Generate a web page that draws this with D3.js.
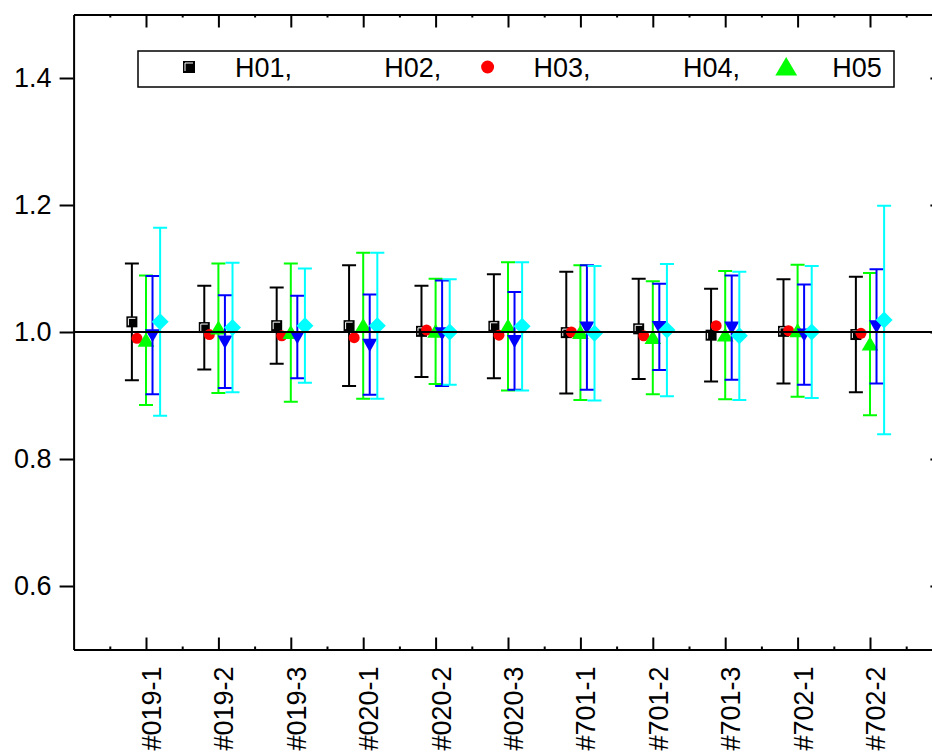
<!DOCTYPE html>
<html>
<head>
<meta charset="utf-8">
<script src="https://cdn.jsdelivr.net/npm/d3@7"></script>
<style>
    body { margin: 0; background: #fff; }
    text { font-family: "Liberation Sans", Arial, sans-serif; }
</style>
</head>
<body>
<div id="chart-area"></div>
<script>
// Data
let categories = ["#019-1", "#019-2", "#019-3", "#020-1", "#020-2", "#020-3",
    "#701-1", "#701-2", "#701-3", "#702-1", "#702-2"];

let blackValues = [1.016, 1.007, 1.010, 1.010, 1.001, 1.009, 0.999, 1.005, 0.995, 1.001, 0.996];
let blackErrors = [0.092, 0.066, 0.060, 0.095, 0.072, 0.082, 0.096, 0.079, 0.073, 0.082, 0.091];

let redValues = [0.990, 0.996, 0.994, 0.991, 1.003, 0.995, 1.000, 0.994, 1.010, 1.002, 0.998];

let greenValues = [0.987, 1.006, 0.999, 1.010, 1.001, 1.009, 0.999, 0.991, 0.995, 1.002, 0.981];
let greenErrors = [0.102, 0.102, 0.109, 0.115, 0.083, 0.101, 0.106, 0.089, 0.101, 0.104, 0.112];

let blueValues = [0.995, 0.985, 0.992, 0.980, 0.998, 0.986, 1.007, 1.008, 1.007, 0.996, 1.009];
let blueErrors = [0.093, 0.073, 0.065, 0.079, 0.083, 0.077, 0.098, 0.068, 0.082, 0.079, 0.090];

let cyanValues = [1.016, 1.007, 1.010, 1.010, 1.000, 1.009, 0.998, 1.003, 0.994, 1.000, 1.019];
let cyanErrors = [0.148, 0.102, 0.090, 0.115, 0.083, 0.101, 0.106, 0.104, 0.101, 0.104, 0.180];

let yTicks = [0.6, 0.8, 1.0, 1.2, 1.4];
let legendLabels = ["H01,", "H02,", "H03,", "H04,", "H05"];
let legendShapes = ["square", null, "circle", null, "triangle"];

// Series styling
let series = [
    {values: blackValues, errors: blackErrors, color: "#000000", shape: "square", offset: -0.195},
    {values: redValues, errors: null, color: "#ff0000", shape: "circle", offset: -0.125},
    {values: greenValues, errors: greenErrors, color: "#00ff00", shape: "triangle", offset: 0},
    {values: blueValues, errors: blueErrors, color: "#0000ff", shape: "down", offset: 0.09},
    {values: cyanValues, errors: cyanErrors, color: "#00ffff", shape: "diamond", offset: 0.195}
];
let shapeColor = {square: "#000000", circle: "#ff0000", triangle: "#00ff00"};

let W = 932, H = 752;
let plotLeft = 73.6, plotRight = 942.4, plotTop = 14.5, plotBottom = 649.5;

let svg = d3.select("#chart-area")
    .append("svg")
    .attr("width", W)
    .attr("height", H);

// Scales
let x = d3.scaleLinear().domain([0, 12]).range([plotLeft, plotRight]);
let y = d3.scaleLinear().domain([0.5, 1.5]).range([plotBottom, plotTop]);

function markerPath(shape, s) {
    let p = d3.path();
    if (shape === "square") {
        p.rect(-s / 2, -s / 2, s, s);
    } else if (shape === "circle") {
        p.arc(0, 0, s / 2, 0, 2 * Math.PI);
    } else if (shape === "triangle") {
        p.moveTo(0, -s * 0.48); p.lineTo(s * 0.52, s * 0.4); p.lineTo(-s * 0.52, s * 0.4); p.closePath();
    } else if (shape === "down") {
        p.moveTo(0, s * 0.48); p.lineTo(s * 0.5, -s * 0.4); p.lineTo(-s * 0.5, -s * 0.4); p.closePath();
    } else if (shape === "diamond") {
        p.moveTo(0, -s / 2); p.lineTo(s / 2, 0); p.lineTo(0, s / 2); p.lineTo(-s / 2, 0); p.closePath();
    }
    return p.toString();
}
let markerSize = {square: 11, circle: 11, triangle: 16, down: 15, diamond: 17};

function drawMarker(g, shape, size, color) {
    g.append("path")
        .attr("d", markerPath(shape, size))
        .attr("fill", color);
    if (shape === "square") {
        let h = size / 2 - 2;
        g.append("path")
            .attr("d", "M" + (-h) + "," + h + "V" + (-h) + "H" + h)
            .attr("fill", "none")
            .attr("stroke", "#fff")
            .attr("stroke-width", 1);
    }
}

// Error bars and markers
series.forEach(function (s) {
    let g = svg.append("g");
    s.values.forEach(function (v, i) {
        let cx = x(i + 1 + s.offset);
        if (s.errors) {
            let y1 = y(v + s.errors[i]), y2 = y(v - s.errors[i]);
            g.append("path")
                .attr("d", "M" + cx + "," + y1 + "V" + y2 +
                    "M" + (cx - 7) + "," + y1 + "H" + (cx + 7) +
                    "M" + (cx - 7) + "," + y2 + "H" + (cx + 7))
                .attr("stroke", s.color)
                .attr("stroke-width", 2)
                .attr("fill", "none");
        }
    });
    s.values.forEach(function (v, i) {
        let m = g.append("g")
            .attr("transform", "translate(" + x(i + 1 + s.offset) + "," + y(v) + ")");
        drawMarker(m, s.shape, markerSize[s.shape], s.color);
    });
});

// Reference line at 1.0
svg.append("line")
    .attr("x1", plotLeft).attr("x2", plotRight)
    .attr("y1", y(1)).attr("y2", y(1))
    .attr("stroke", "#000")
    .attr("stroke-width", 2);

// Axes
let majorX = categories.map(function (d, i) { return i + 1; });
let minorX = categories.map(function (d, i) { return i + 0.5; }).concat([11.5]);

function styleAxis(g) {
    g.selectAll("path, line").attr("stroke", "#000").attr("stroke-width", 2);
    g.selectAll("text").attr("font-size", "27px").attr("fill", "#000")
        .attr("font-family", "'Liberation Sans', Arial, sans-serif");
}

// Y Axis (left)
svg.append("g")
    .attr("transform", "translate(" + plotLeft + ",0)")
    .call(d3.axisLeft(y).tickValues(yTicks).tickSize(14).tickSizeOuter(0).tickPadding(8)
        .tickFormat(d3.format(".1f")))
    .call(styleAxis);

// Right axis, ticks inward
svg.append("g")
    .attr("transform", "translate(" + plotRight + ",0)")
    .call(d3.axisLeft(y).tickValues(yTicks).tickSize(12).tickSizeOuter(0).tickFormat(""))
    .call(styleAxis);

// Top axis, ticks inward
svg.append("g")
    .attr("transform", "translate(0," + plotTop + ")")
    .call(d3.axisBottom(x).tickValues(majorX).tickSize(13).tickSizeOuter(0).tickFormat(""))
    .call(styleAxis);
svg.append("g")
    .attr("transform", "translate(0," + plotTop + ")")
    .call(d3.axisBottom(x).tickValues(minorX).tickSize(3).tickSizeOuter(0).tickFormat(""))
    .call(styleAxis);

// X Axis (bottom), ticks inward
svg.append("g")
    .attr("transform", "translate(0," + plotBottom + ")")
    .call(d3.axisTop(x).tickValues(majorX).tickSize(12).tickSizeOuter(0).tickFormat(""))
    .call(styleAxis);
svg.append("g")
    .attr("transform", "translate(0," + plotBottom + ")")
    .call(d3.axisTop(x).tickValues(minorX).tickSize(3).tickSizeOuter(0).tickFormat(""))
    .call(styleAxis);

// X Labels
svg.selectAll(".xlabel")
    .data(categories)
    .enter()
    .append("text")
    .attr("class", "xlabel")
    .attr("transform", function (d, i) {
        return "translate(" + x(i + 1) + "," + (plotBottom + 17) + ") rotate(-90)";
    })
    .attr("dy", 15)
    .attr("text-anchor", "end")
    .attr("font-size", "27px")
    .text(function (d) { return d; });

// Legend
let legend = svg.append("g");
legend.append("rect")
    .attr("x", 138).attr("y", 51)
    .attr("width", 756).attr("height", 36)
    .attr("fill", "#fff")
    .attr("stroke", "#000")
    .attr("stroke-width", 1.5);

let legendSize = {square: 12, circle: 13, triangle: 21};
legendLabels.forEach(function (label, i) {
    let tx = 235 + i * 149.3;
    let shape = legendShapes[i];
    if (shape) {
        let m = legend.append("g")
            .attr("transform", "translate(" + (tx - 46) + ",67)");
        drawMarker(m, shape, legendSize[shape], shapeColor[shape]);
    }
    legend.append("text")
        .attr("x", tx)
        .attr("y", 77)
        .attr("font-size", "27px")
        .text(label);
});
</script>
</body>
</html>
